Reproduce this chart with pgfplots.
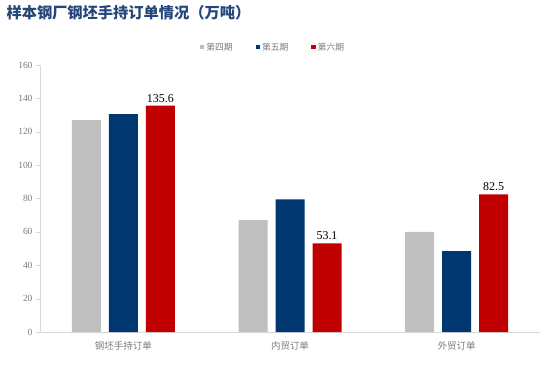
\documentclass[border=0pt]{standalone}
\usepackage{pgfplots}
\pgfplotsset{compat=1.18}
\usepackage{fontspec}
\setmainfont{Liberation Serif}
\newfontfamily\cjk{Noto Sans CJK SC}
\definecolor{cgray}{HTML}{BFBFBF}
\definecolor{cblue}{HTML}{003770}
\definecolor{cred}{HTML}{C00000}
\definecolor{ctitle}{HTML}{24467A}
\definecolor{ctext}{HTML}{7A7A7A}
\definecolor{caxis}{HTML}{D9D9D9}
\begin{document}
\begin{tikzpicture}[x=1bp,y=1bp]
\useasboundingbox (0,0) rectangle (550,374);
\node[anchor=west, text=ctitle, font=\cjk\bfseries\fontsize{15.3}{17}\selectfont] at (3,361) {样本钢厂钢坯手持订单情况（万吨）};
\begin{axis}[
  at={(40bp,42bp)}, anchor=south west,
  scale only axis, width=500bp, height=267bp,
  ybar=8bp, bar width=29bp,
  xmin=-0.5, xmax=2.5, ymin=0, ymax=160,
  ytick distance=20,
  xtick={0,1,2},
  xticklabels={钢坯手持订单,内贸订单,外贸订单},
  x tick label style={font=\cjk\fontsize{9.5}{11}\selectfont, text=ctext, yshift=-2bp},
  y tick label style={font=\fontsize{9.5}{10}\selectfont, text=ctext},
  /pgf/number format/assume math mode=true,
  axis x line*=bottom, axis y line*=left,
  axis line style={caxis, line width=0.8pt},
  x axis line style={-}, y axis line style={-},
  major tick length=4bp,
  tick align=outside,
  ytick style={draw=caxis},
  xtick style={draw=none},
  extra x ticks={0.5,1.5}, extra x tick labels={},
  extra x tick style={tick style={draw=caxis}},
  legend columns=3,
  legend style={at={(0.466,1.067)}, anchor=center, draw=none, fill=none,
    font=\cjk\fontsize{8.8}{10}\selectfont, text=ctext,
    /tikz/every even column/.append style={column sep=21bp}},
  legend image code/.code={\fill[#1,draw=none] (2bp,-2.2bp) rectangle (6.4bp,2.2bp);},
  nodes near coords style={font=\fontsize{12}{13}\selectfont, text=black},
]
\addplot[fill=cgray, draw=none] coordinates {(0,127) (1,67) (2,60)};
\addplot[fill=cblue, draw=none] coordinates {(0,130.6) (1,79.5) (2,48.5)};
\addplot[fill=cred, draw=none, nodes near coords, nodes near coords style={/pgf/number format/.cd,fixed,fixed zerofill,precision=1}] coordinates {(0,135.6) (1,53.1) (2,82.5)};
\legend{第四期,第五期,第六期}
\end{axis}
\end{tikzpicture}
\end{document}
